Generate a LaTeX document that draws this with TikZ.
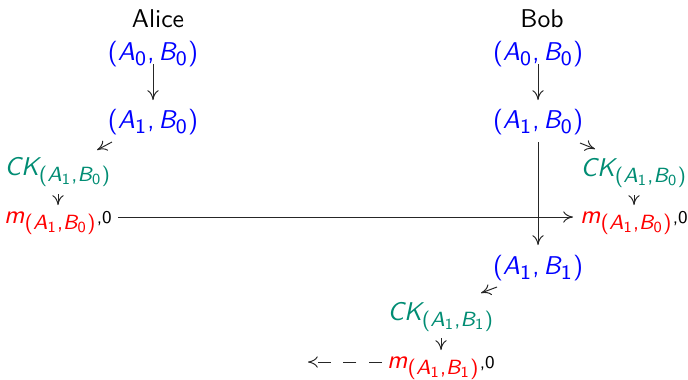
\documentclass[tikz,border=0pt]{standalone}
\renewcommand{\familydefault}{\sfdefault}
\usepackage[italic]{mathastext}
\usetikzlibrary{calc,arrows.meta}
\definecolor{ckgreen}{RGB}{0,140,115}
\begin{document}
\begin{tikzpicture}[x=0.3895pt,y=-0.3895pt,
  lbl/.style={anchor=base,inner sep=0pt,font=\sffamily},
  st/.style={anchor=base,inner sep=0pt,text=blue},
  ck/.style={anchor=base,inner sep=0pt,text=ckgreen},
  mm/.style={anchor=base,inner sep=0pt},
  arr/.style={-{To[length=3.8pt,width=4.4pt]},line width=0.38pt,draw=black!85}]
\useasboundingbox (0,0) rectangle (688,379);
% Alice
\node[lbl] (alice) at (158,27) {Alice};
\node[st] (a0) at (153,60) {$(A_0,B_0)$};
\node[st] (a1) at (153,128) {$(A_1,B_0)$};
\node[ck] (ack) at (58,175) {$CK_{(A_1,B_0)}$};
\node[mm] (am) at (58,223) {\textcolor{red}{$m_{(A_1,B_0)}$}{\scriptsize,0}};
% Bob
\node[lbl] (bob) at (542,27) {Bob};
\node[st] (b0) at (538,60) {$(A_0,B_0)$};
\node[st] (b1) at (538,128) {$(A_1,B_0)$};
\node[ck] (bck) at (634,176) {$CK_{(A_1,B_0)}$};
\node[mm] (bm) at (634,223) {\textcolor{red}{$m_{(A_1,B_0)}$}{\scriptsize,0}};
\node[st] (c1) at (538,274) {$(A_1,B_1)$};
\node[ck] (cck) at (441,320) {$CK_{(A_1,B_1)}$};
\node[mm] (cm) at (441,368) {\textcolor{red}{$m_{(A_1,B_1)}$}{\scriptsize,0}};
% arrows
\draw[arr] ($(a0.base)+(0,4)$) -- ($(a1.base)+(0,-28)$);
\draw[arr] ($(a1.base)+(-41,14)$) -- ($(ack.base)+(39,-25)$);
\draw[arr] ($(ack.base)+(0,19)$) -- ($(am.base)+(0,-18)$);
\draw[arr] ($(am.base)+(60,-6)$) -- ($(bm.base)+(-61,-6)$);
\draw[arr] ($(b0.base)+(0,4)$) -- ($(b1.base)+(0,-28)$);
\draw[arr] ($(b1.base)+(42,15)$) -- ($(bck.base)+(-39,-27)$);
\draw[arr] ($(bck.base)+(0,19)$) -- ($(bm.base)+(0,-18)$);
\draw[arr] ($(b1.base)+(0,14)$) -- ($(c1.base)+(0,-29)$);
\draw[arr] ($(c1.base)+(-41,13)$) -- ($(cck.base)+(40,-27)$);
\draw[arr] ($(cck.base)+(0,18)$) -- ($(cm.base)+(0,-18)$);
\draw[arr,dash pattern=on 5pt off 5pt] ($(cm.base)+(-59,-6)$) -- ($(cm.base)+(-133,-6)$);
\end{tikzpicture}
\end{document}
